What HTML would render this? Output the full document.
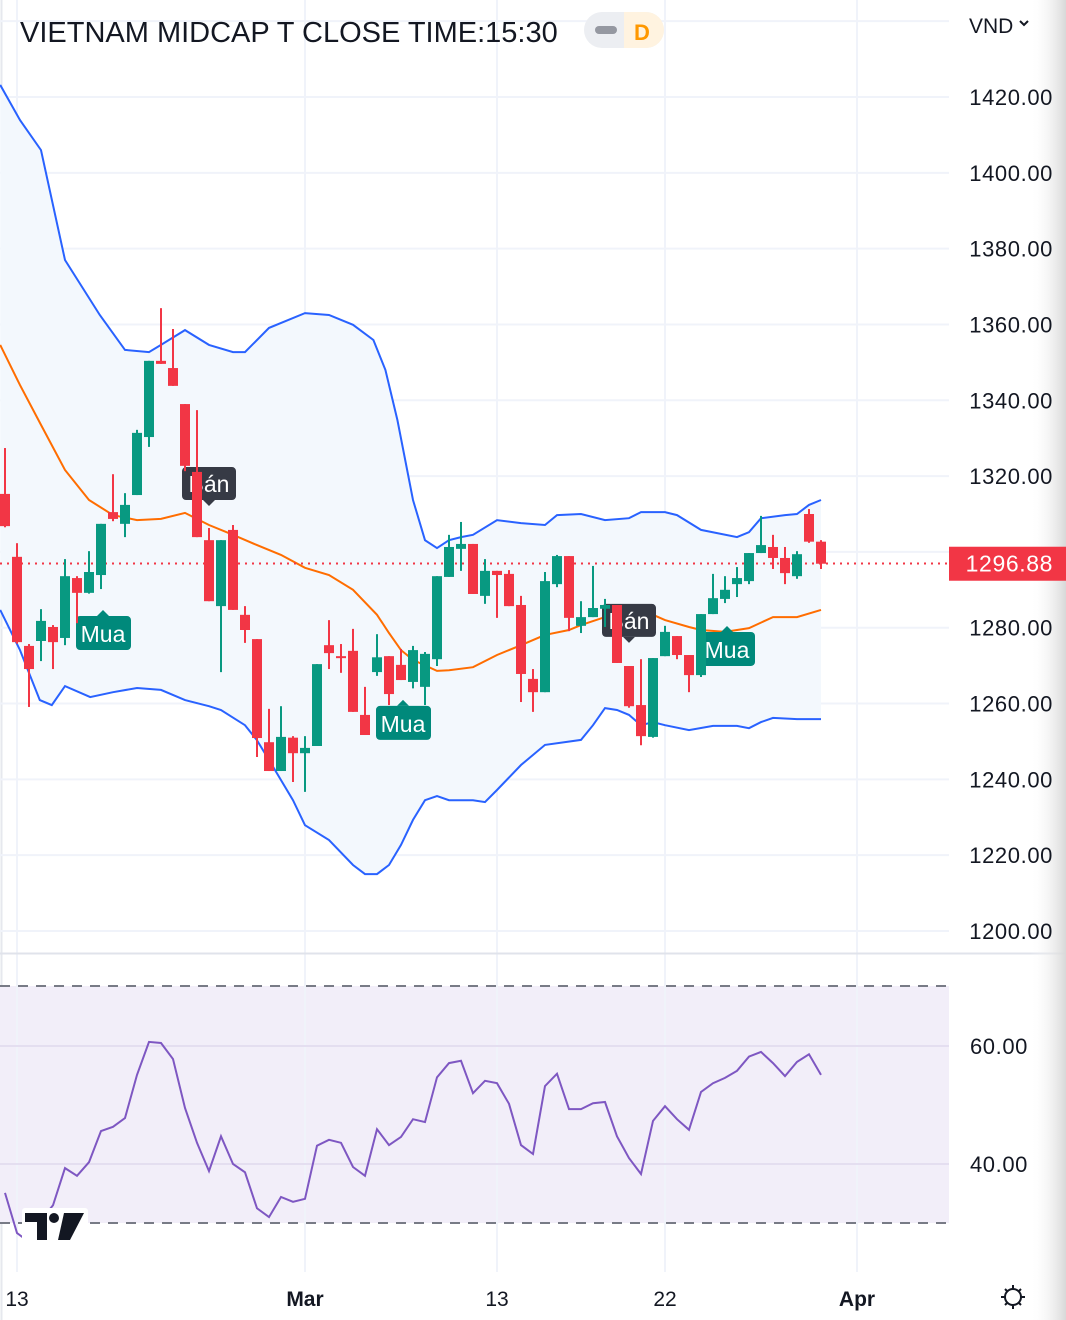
<!DOCTYPE html>
<html><head><meta charset="utf-8">
<style>
html,body{margin:0;padding:0;background:#fff;}
body{width:1066px;height:1320px;overflow:hidden;position:relative;font-family:"Liberation Sans",sans-serif;}
svg{position:absolute;left:0;top:0;}
</style></head>
<body>
<svg id="chart" width="1066" height="1320" viewBox="0 0 1066 1320" xmlns="http://www.w3.org/2000/svg">
<defs>
<linearGradient id="edge" x1="0" x2="1" y1="0" y2="0">
<stop offset="0" stop-color="#ffffff" stop-opacity="0"/><stop offset="1" stop-color="#d8d8d8" stop-opacity="1"/>
</linearGradient>
</defs>
<line x1="1.5" y1="0" x2="1.5" y2="1320" stroke="#e6e8ee" stroke-width="2"/>
<rect x="0" y="986" width="949" height="237" fill="#f2eef9"/>
<g id="grid"></g>
<line x1="0" y1="953.5" x2="1066" y2="953.5" stroke="#e0e3eb" stroke-width="2"/>
<line x1="0" y1="986" x2="949" y2="986" stroke="#787b86" stroke-width="2" stroke-dasharray="10,8"/>
<line x1="0" y1="1223" x2="949" y2="1223" stroke="#787b86" stroke-width="2" stroke-dasharray="10,8"/>
<g id="bands"></g>
<line x1="0" y1="563.5" x2="949" y2="563.5" stroke="#f23645" stroke-width="2" stroke-dasharray="2,5"/>
<g id="markers"></g>
<g id="candles"></g>
<g id="rsi"></g>
<rect x="1030" y="0" width="36" height="1320" fill="url(#edge)"/>
<g id="yaxis"></g>
<g id="xaxis"></g>
<text x="20" y="42" font-size="29" fill="#131722" font-family="Liberation Sans, sans-serif">VIETNAM MIDCAP T CLOSE TIME:15:30</text>
<g>
<rect x="584" y="12" width="80" height="36" rx="18" fill="#eceef2"/>
<path d="M624 12 H646 A18 18 0 0 1 646 48 H624 Z" fill="#fff3e0"/>
<rect x="595" y="26" width="22" height="8" rx="4" fill="#9598a1"/>
<text x="642" y="40" font-size="22" fill="#ff9800" text-anchor="middle" font-weight="bold">D</text>
</g>
<text x="969" y="33" font-size="21" fill="#131722">VND</text>
<path d="M1020 21 l4 4 l4 -4" stroke="#131722" stroke-width="2" fill="none"/>
<g>
<rect x="22" y="1208" width="66" height="38" fill="#fff" rx="3"/>
<path d="M25 1213 H47 V1240 H37 V1222 H25 Z" fill="#131722"/>
<circle cx="54" cy="1218" r="5" fill="#131722"/>
<path d="M64 1213 H84 L70 1240 H58 Z" fill="#131722"/>
</g>
<g>
<circle cx="1013" cy="1297" r="8" fill="none" stroke="#131722" stroke-width="2"/>
<path d="M1013 1285v4M1013 1305v4M1001 1297h4M1021 1297h4M1005 1289l3 3M1018 1302l3 3M1021 1289l-3 3M1008 1302l-3 3" stroke="#131722" stroke-width="2"/>
</g>
</svg>
<script>
const opens=[1315.3,1298.7,1275.2,1276.5,1280.2,1277.3,1293.1,1289.2,1293.9,1310.5,1307.4,1315.0,1330.3,1350.4,1348.5,1339.0,1321.1,1303.1,1285.7,1305.8,1283.4,1277.0,1249.8,1242.2,1251.0,1246.9,1248.8,1275.4,1272.5,1273.9,1257.0,1268.3,1272.5,1270.2,1265.7,1264.4,1271.7,1293.4,1300.8,1302.1,1288.4,1295.0,1294.2,1286.0,1266.5,1263.0,1291.5,1298.9,1280.5,1282.8,1285.0,1286.0,1269.9,1259.6,1251.2,1272.5,1277.8,1272.8,1267.5,1283.6,1287.6,1291.5,1292.3,1299.7,1301.3,1298.4,1293.6,1310.0,1302.7];
const highs=[1327.4,1302.3,1275.7,1284.9,1280.7,1298.1,1293.6,1300.2,1307.4,1320.5,1315.5,1332.2,1350.4,1364.3,1358.8,1339.0,1337.4,1306.3,1303.1,1307.1,1285.7,1277.0,1258.6,1259.3,1251.4,1251.4,1270.4,1282.0,1275.7,1279.7,1264.4,1278.3,1272.5,1274.4,1275.2,1273.6,1293.6,1304.5,1307.9,1302.1,1298.1,1295.0,1295.2,1288.4,1269.1,1294.7,1299.2,1298.9,1287.0,1296.3,1287.6,1286.0,1269.9,1271.7,1272.0,1280.5,1277.8,1272.8,1283.6,1294.2,1293.6,1296.0,1299.7,1309.5,1304.5,1301.3,1300.2,1311.3,1303.1];
const lows=[1306.5,1275.8,1259.1,1271.2,1269.1,1275.4,1281.2,1289.0,1290.2,1308.1,1303.9,1315.0,1327.7,1349.6,1343.8,1321.3,1303.9,1287.0,1268.3,1284.7,1276.0,1245.9,1242.2,1242.2,1239.3,1236.7,1248.8,1269.1,1268.1,1257.8,1251.7,1267.3,1259.6,1266.2,1264.0,1259.6,1269.9,1293.4,1295.0,1288.9,1286.3,1282.6,1285.7,1260.4,1257.8,1263.0,1290.7,1279.1,1278.6,1282.8,1280.2,1270.7,1258.9,1249.0,1251.0,1272.5,1271.7,1263.0,1267.0,1283.6,1286.5,1288.1,1291.5,1299.7,1295.5,1291.5,1292.9,1302.4,1295.5];
const closes=[1306.8,1276.2,1269.1,1281.8,1276.2,1293.6,1289.2,1294.7,1307.4,1308.7,1312.4,1331.4,1350.4,1349.6,1343.8,1322.7,1303.9,1287.0,1303.1,1284.7,1279.4,1250.9,1242.2,1251.2,1246.9,1248.3,1270.4,1273.3,1272.2,1257.8,1251.7,1272.2,1262.5,1266.2,1274.1,1273.1,1293.6,1301.3,1302.1,1288.9,1295.0,1293.9,1285.7,1267.8,1263.0,1292.3,1298.9,1282.6,1282.8,1285.2,1286.0,1270.7,1259.3,1251.4,1272.0,1278.9,1272.8,1267.5,1283.6,1287.8,1290.0,1293.1,1299.7,1301.8,1298.4,1294.4,1299.4,1302.7,1296.88];
const upperIdx=[-0.4,1.25,3,5,7.9,10,12,13,15,17,19,20,22,25,27,29,30.7,31.7,32.7,34,35,36,37,38,39,41,43,45,46,48,50,52,53,55,56,58,61,62,63,65,66,67,68];
const upperVal=[1423.2,1413.9,1406.0,1377.0,1362.5,1353.3,1352.7,1354.6,1358.5,1354.6,1352.7,1352.7,1359.1,1363.0,1362.5,1359.9,1355.9,1348.0,1334.8,1313.7,1303.1,1301.0,1303.1,1303.9,1304.5,1308.4,1307.6,1307.1,1309.7,1310.0,1308.4,1308.9,1310.5,1310.5,1309.7,1305.8,1303.9,1305.2,1308.9,1309.7,1310.0,1312.4,1313.7];
const lowerIdx=[-0.4,1.25,2.9,3.9,5,7.1,9,11,13,15,17,18,20,21,22,24,25,27,29,30,31,32,33,34,35,36,37,39,40,41,43,45,48,49,50,51,52,53,54,55,57,59,61,62,63,64,66,68];
const lowerVal=[1284.7,1274.1,1260.9,1259.6,1264.6,1261.7,1263.0,1264.1,1263.6,1260.9,1259.3,1258.3,1254.3,1250.3,1245.1,1234.5,1227.9,1224.0,1217.4,1215.0,1215.0,1217.4,1222.7,1229.3,1234.5,1235.6,1234.5,1234.5,1234.0,1237.2,1243.8,1249.1,1250.4,1254.3,1258.8,1258.3,1257.0,1254.3,1255.1,1254.3,1253.0,1254.1,1254.1,1253.5,1255.1,1256.2,1255.9,1255.9];
const midIdx=[-0.4,1.25,3,5,7,9,11,13,15,17,19,21,23,25,27,29,31,32,33,34,36,37,39,41,43,45,47,48,50,52,54,55,57,58,60,62,64,66,68];
const midVal=[1354.6,1344.0,1333.5,1321.6,1313.7,1309.7,1308.4,1308.7,1310.3,1307.1,1304.5,1301.8,1299.2,1295.8,1293.9,1290.0,1283.4,1278.6,1274.1,1271.5,1268.6,1268.8,1269.6,1272.8,1275.4,1278.1,1279.4,1280.7,1282.8,1282.8,1283.4,1282.0,1280.2,1279.4,1278.9,1279.9,1282.8,1282.8,1284.7];
const rsiVals=[35.1,28.3,26.8,30.5,33.0,39.3,38.0,40.3,45.6,46.3,47.8,55.1,60.7,60.5,57.8,49.5,43.6,38.8,44.7,40.0,38.6,32.5,31.0,34.4,33.6,34.1,43.1,44.1,43.6,39.5,38.0,45.9,43.2,44.6,47.6,47.1,54.7,57.1,57.5,52.0,54.1,53.7,50.2,43.2,41.7,53.2,55.3,49.3,49.3,50.3,50.5,44.7,41.0,38.3,47.3,49.8,47.6,45.8,52.2,53.7,54.6,55.8,58.2,59.0,57.1,54.9,57.3,58.6,55.1];
const priceTicks=[1420,1400,1380,1360,1340,1320,1300,1280,1260,1240,1220,1200];
const rsiTicks=[60,40];
const timeLabels=["13","Mar","13","22","Apr"];
const timeLabelIdx=[1,25,41,55,71];
const buyIdx=[8,33,60];
const buyPrice=[1278.6,1254.9,1274.4];
const sellIdx=[17,52];
const sellPrice=[1317.9,1281.8];
const lastPrice=1296.88;

const NS="http://www.w3.org/2000/svg";
const xOf=i=>5+12*i;
const yP=p=>97+(1420-p)*3.7909;
const yR=r=>1046+(60-r)*5.9;
function mk(tag,attrs,parent){const e=document.createElementNS(NS,tag);for(const k in attrs)e.setAttribute(k,attrs[k]);parent.appendChild(e);return e;}
const grid=document.getElementById('grid');
priceTicks.concat([1440]).forEach(p=>{
  const l=mk('line',{x1:0,x2:949,y1:yP(p),y2:yP(p),stroke:'#f0f3fa','stroke-width':2},grid);
  
  
});
timeLabelIdx.forEach(i=>{
  const l=mk('line',{x1:xOf(i),x2:xOf(i),y1:0,y2:1272,stroke:'#f0f3fa','stroke-width':2},grid);
  
  
});
rsiTicks.forEach(r=>{
  const l=mk('line',{x1:0,x2:949,y1:yR(r),y2:yR(r),stroke:'#e4def0','stroke-width':2},grid);
  
  
});
const bands=document.getElementById('bands');
const pts=(idx,val)=>idx.map((i,k)=>xOf(i).toFixed(1)+','+yP(val[k]).toFixed(1));
const fillPts=pts(upperIdx,upperVal).concat(pts(lowerIdx,lowerVal).reverse());
const fill=mk('polygon',{points:fillPts.join(' '),fill:'#f3f8fd'},bands);


const up=mk('polyline',{points:pts(upperIdx,upperVal).join(' '),fill:'none',stroke:'#2962ff','stroke-width':2},bands);


const lo=mk('polyline',{points:pts(lowerIdx,lowerVal).join(' '),fill:'none',stroke:'#2962ff','stroke-width':2},bands);


const md=mk('polyline',{points:pts(midIdx,midVal).join(' '),fill:'none',stroke:'#ff6d00','stroke-width':2},bands);



const markers=document.getElementById('markers');
buyIdx.forEach((i,k)=>{
  const g=mk('g',{},markers);
  
  
  const x=xOf(i)-25,y=yP(buyPrice[k])-17;
  mk('rect',{x:x,y:y,width:55,height:34,rx:4,fill:'#00897b'},g);
  mk('path',{d:`M${x+21} ${y} l6 -6 l6 6 Z`,fill:'#00897b'},g);
  const t=mk('text',{x:x+27,y:y+26,'font-size':23,fill:'#fff','text-anchor':'middle'},g);t.textContent='Mua';
});
sellIdx.forEach((i,k)=>{
  const g=mk('g',{},markers);
  
  
  const x=xOf(i)-27,y=yP(sellPrice[k])-17;
  mk('rect',{x:x,y:y,width:54,height:33,rx:4,fill:'#363a45'},g);
  mk('path',{d:`M${x+21} ${y+33} l6 6 l6 -6 Z`,fill:'#363a45'},g);
  const t=mk('text',{x:x+27,y:y+25,'font-size':23,fill:'#fff','text-anchor':'middle'},g);t.textContent='Bán';
});

const cg=document.getElementById('candles');
opens.forEach((o,i)=>{
  const c=closes[i],h=highs[i],l=lows[i];
  const col=c>=o?'#089981':'#f23645';
  const g=mk('g',{},cg);
  
  
  const x=xOf(i);
  mk('line',{x1:x,x2:x,y1:yP(h),y2:yP(l),stroke:col,'stroke-width':2},g);
  const top=yP(Math.max(o,c)),bot=yP(Math.min(o,c));
  mk('rect',{x:x-5,y:top,width:10,height:Math.max(2,bot-top),fill:col},g);
});

const rg=document.getElementById('rsi');
const rl=mk('polyline',{points:rsiVals.map((r,i)=>xOf(i)+','+yR(r).toFixed(1)).join(' '),fill:'none',stroke:'#7e57c2','stroke-width':2},rg);



const ya=document.getElementById('yaxis');
priceTicks.forEach(p=>{
  if(p===1300)return;
  const t=mk('text',{x:1053,y:yP(p)+8,'font-size':22,'letter-spacing':'0.6',fill:'#131722','text-anchor':'end'},ya);
  
  
  t.textContent=p.toFixed(2);
});
rsiTicks.forEach(r=>{
  const t=mk('text',{x:1028,y:yR(r)+8,'font-size':22,'letter-spacing':'0.6',fill:'#131722','text-anchor':'end'},ya);
  
  
  t.textContent=r.toFixed(2);
});
const lb=mk('rect',{x:949,y:yP(lastPrice)-17,width:117,height:34,fill:'#f23645'},ya);


const lt=mk('text',{x:1053,y:yP(lastPrice)+8,'font-size':23,'letter-spacing':'0.6',fill:'#fff','text-anchor':'end'},ya);


lt.textContent=lastPrice.toFixed(2);

const xa=document.getElementById('xaxis');
timeLabels.forEach((s,k)=>{
  const t=mk('text',{x:xOf(timeLabelIdx[k]),y:1306,'font-size':21,fill:'#131722','text-anchor':'middle','font-weight':s.length>2?'bold':'normal'},xa);
  
  
  t.textContent=s;
});
</script>
</body></html>
